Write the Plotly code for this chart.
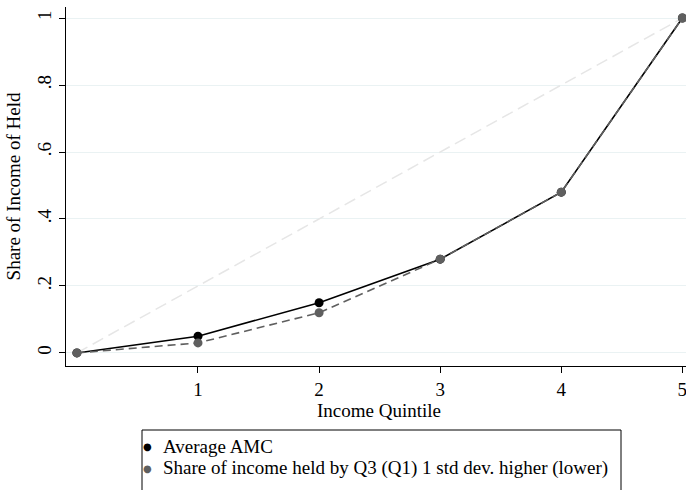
import plotly.graph_objects as go

quintiles = [0, 1, 2, 3, 4, 5]
average_amc = [0, 0.05, 0.15, 0.28, 0.48, 1.0]
shifted_share = [0, 0.03, 0.12, 0.28, 0.48, 1.0]
equality = [0, 0.2, 0.4, 0.6, 0.8, 1.0]
x_ticks = [1, 2, 3, 4, 5]
x_tick_labels = ["1", "2", "3", "4", "5"]
y_ticks = [0, 0.2, 0.4, 0.6, 0.8, 1.0]
y_tick_labels = ["0", ".2", ".4", ".6", ".8", "1"]
legend_names = ["Average AMC", "Share of income held by Q3 (Q1) 1 std dev. higher (lower)"]

FONT = "Liberation Serif, Times New Roman, serif"
FS = 19

fig = go.Figure()
fig.add_trace(go.Scatter(x=quintiles, y=equality, mode="lines",
                         line=dict(color="#e6e6e6", width=1.5, dash="12px,6px"),
                         showlegend=False, hoverinfo="skip"))
fig.add_trace(go.Scatter(x=quintiles, y=average_amc, mode="lines+markers",
                         line=dict(color="black", width=1.6),
                         marker=dict(color="black", size=9),
                         name=legend_names[0], showlegend=False))
fig.add_trace(go.Scatter(x=quintiles, y=shifted_share, mode="lines+markers",
                         line=dict(color="#5f5f5f", width=1.6, dash="8px,5px"),
                         marker=dict(color="#5f5f5f", size=9),
                         name=legend_names[1], showlegend=False))

L, T, B, W, H = 66, 7, 124, 686, 490
pw, ph = W - L, H - T - B

def px(xp):
    return (xp - L) / pw

def py(yp):
    return (H - B - yp) / ph

shapes = [dict(type="rect", xref="paper", yref="paper",
               x0=px(142), x1=px(621), y0=py(500), y1=py(430),
               line=dict(color="black", width=1), fillcolor="white", layer="above")]

annotations = [
    dict(text="Income Quintile", xref="paper", yref="paper", x=px(379), y=py(410),
         showarrow=False, font=dict(family=FONT, size=FS, color="black"),
         xanchor="center", yanchor="middle"),
]
colors = ["black", "#5f5f5f"]
rows = [446, 468]
for name, c, yy in zip(legend_names, colors, rows):
    annotations.append(dict(text="●", xref="paper", yref="paper", x=px(147), y=py(yy),
                            showarrow=False, font=dict(family="DejaVu Sans", size=10, color=c),
                            xanchor="center", yanchor="middle"))
    annotations.append(dict(text=name, xref="paper", yref="paper", x=px(161), y=py(yy),
                            showarrow=False, font=dict(family=FONT, size=FS, color="black"),
                            xanchor="left", yanchor="middle"))

fig.update_layout(
    width=W, height=H,
    margin=dict(l=L, r=0, t=T, b=B),
    paper_bgcolor="white", plot_bgcolor="white",
    font=dict(family=FONT, size=FS, color="black"),
    shapes=shapes, annotations=annotations,
    xaxis=dict(range=[-0.09, 5.03], tickvals=x_ticks, ticktext=x_tick_labels,
               showgrid=False, zeroline=False, showline=True, linecolor="black", linewidth=1,
               ticks="outside", ticklen=6, tickcolor="black", tickfont=dict(size=FS),
               ticklabeloverflow="allow"),
    yaxis=dict(range=[-0.039, 1.033], tickvals=y_ticks, ticktext=y_tick_labels,
               showgrid=True, gridcolor="#eaf2f3", gridwidth=1, zeroline=False,
               showline=True, linecolor="black", linewidth=1,
               ticks="outside", ticklen=6, tickcolor="black", tickangle=-90,
               tickfont=dict(size=FS), ticklabeloverflow="allow",
               title=dict(text="Share of Income of Held", font=dict(size=FS), standoff=8)),
)

fig.write_html("out.html", config={"displayModeBar": False},
               post_script="document.body.style.margin='0px';document.body.style.overflow='hidden';")
